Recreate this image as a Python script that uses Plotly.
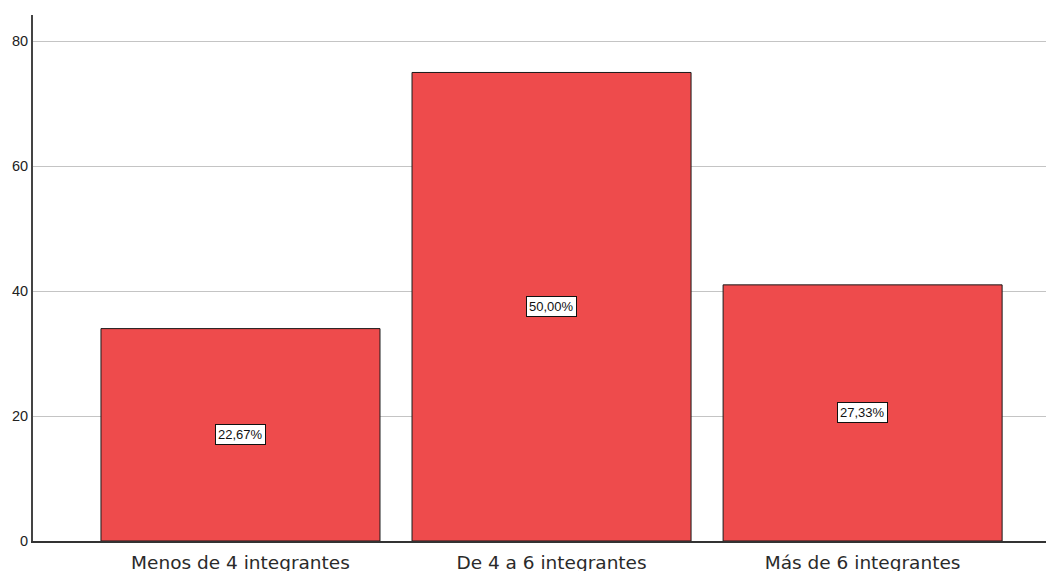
import plotly.graph_objects as go

categories = ["Menos de 4 integrantes", "De 4 a 6 integrantes", "Más de 6 integrantes"]
counts = [34, 75, 41]
pct_labels = ["22,67%", "50,00%", "27,33%"]
y_ticks = [0, 20, 40, 60, 80]

fig = go.Figure()
fig.add_trace(go.Bar(
    x=categories, y=counts, width=0.897,
    marker=dict(color="#EE4B4C", line=dict(color="#1a1a1a", width=1)),
    hoverinfo="skip",
))

for c, v, t in zip(categories, counts, pct_labels):
    fig.add_annotation(
        x=c, y=v / 2, text=t, showarrow=False,
        font=dict(family="Liberation Sans, Arial", size=13, color="#111"),
        bgcolor="white", bordercolor="#111", borderwidth=1, borderpad=2,
    )

fig.update_layout(
    width=1054, height=571,
    margin=dict(l=25, r=0, t=7, b=38, autoexpand=False),
    plot_bgcolor="white", paper_bgcolor="white",
    showlegend=False, bargap=0.1,
    font=dict(family="Liberation Sans, Arial", color="#222"),
)
fig.update_xaxes(
    type="category", range=[-0.667, 2.641],
    showline=True, linecolor="#333", linewidth=1.5,
    showgrid=False, ticks="", ticklabelstandoff=4,
    tickfont=dict(family="DejaVu Sans", size=18.5, color="#2a2a2a"),
)
fig.update_yaxes(
    range=[0, 84.2], tickvals=y_ticks,
    showline=True, linecolor="#444", linewidth=2,
    showgrid=True, gridcolor="#c4c4c4", gridwidth=1,
    zeroline=False, ticks="", tickfont=dict(size=14.5, color="#222"),
)

fig.write_html("out.html")
